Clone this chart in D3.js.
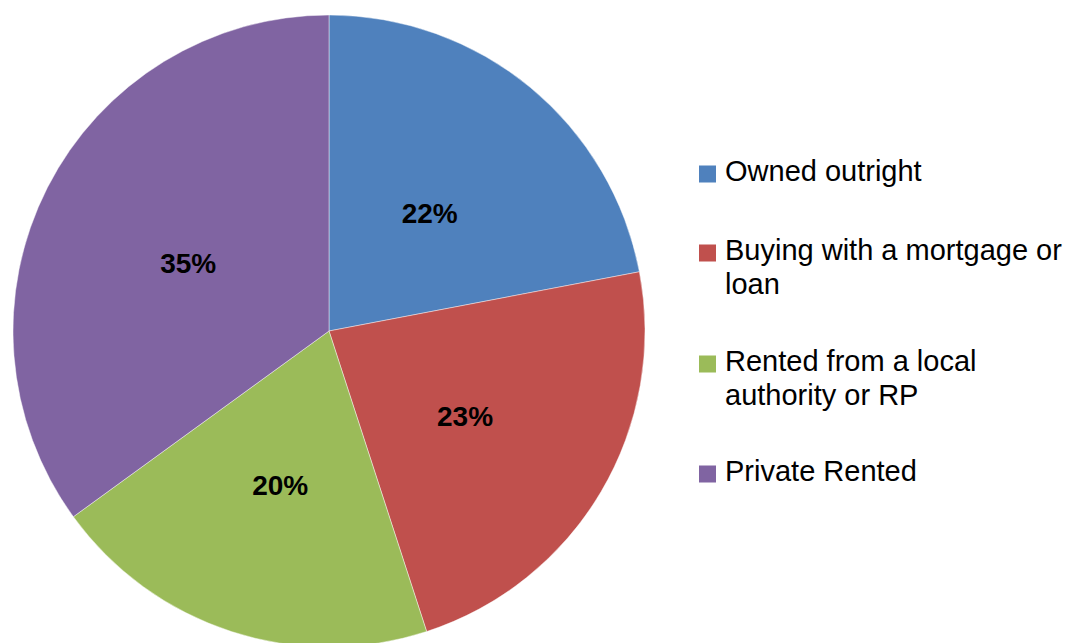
<!DOCTYPE html>
<html>
<head>
<meta charset="utf-8">
<script src="https://cdn.jsdelivr.net/npm/d3@7"></script>
<style>
  html, body { margin: 0; padding: 0; background: #fff; }
  svg { display: block; font-family: "Liberation Sans", Arial, sans-serif; }
</style>
</head>
<body>
<svg id="chart" width="1069" height="643"></svg>
<script>
// Housing tenure shares (percent)
const categories = ["Owned outright", "Buying with a mortgage or loan", "Rented from a local authority or RP", "Private Rented"];
const values = [22, 23, 20, 35];
const colors = ["#4F81BD", "#C0504D", "#9BBB59", "#8064A2"];
// Legend text, wrapped as displayed
const legendLines = [["Owned outright"], ["Buying with a mortgage or", "loan"], ["Rented from a local", "authority or RP"], ["Private Rented"]];

const svg = d3.select("#chart");
const cx = 329, cy = 331, radius = 316;

const data = categories.map((c, i) => ({ category: c, value: values[i], color: colors[i] }));

const pie = d3.pie().value(d => d.value).sort(null);
const arc = d3.arc().innerRadius(0).outerRadius(radius);

const g = svg.append("g").attr("transform", `translate(${cx},${cy})`);
const arcs = pie(data);

g.selectAll("path.slice")
  .data(arcs)
  .enter().append("path")
  .attr("class", "slice")
  .attr("d", arc)
  .attr("fill", d => d.data.color)
  .attr("stroke", "rgba(255,255,255,0.55)")
  .attr("stroke-width", 0.8);

// Percentage labels at slice centroids
g.selectAll("text.pct")
  .data(arcs)
  .enter().append("text")
  .attr("class", "pct")
  .attr("transform", d => {
    const [x, y] = arc.centroid(d);
    return `translate(${x},${y + 4})`;
  })
  .attr("text-anchor", "middle")
  .attr("dy", "0.36em")
  .attr("font-size", 28)
  .attr("font-weight", "bold")
  .attr("fill", "#000")
  .text(d => d.data.value + "%");

// Legend
const legendX = 699, textX = 725, lineH = 34;
const entryBaselines = [181, 260, 371, 481];
const legend = svg.append("g");
data.forEach((d, i) => {
  const base = entryBaselines[i];
  legend.append("rect")
    .attr("x", legendX)
    .attr("y", base - 7 - 8.5)
    .attr("width", 17)
    .attr("height", 17)
    .attr("fill", d.color);
  const t = legend.append("text")
    .attr("x", textX)
    .attr("y", base)
    .attr("font-size", 29)
    .attr("fill", "#000");
  legendLines[i].forEach((line, j) => {
    t.append("tspan").attr("x", textX).attr("y", base + j * lineH).text(line);
  });
});
</script>
</body>
</html>
